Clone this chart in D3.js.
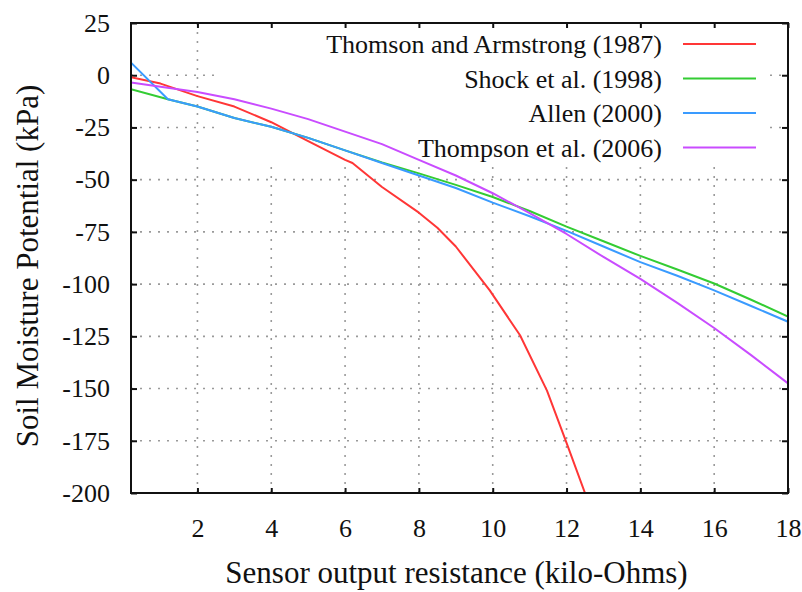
<!DOCTYPE html>
<html>
<head>
<meta charset="utf-8">
<script src="https://cdn.jsdelivr.net/npm/d3@7"></script>
<style>
  body { margin: 0; background: #fff; }
</style>
</head>
<body>
<svg id="chart" width="802" height="592"></svg>
<script>
// values
const thomsonX = [0.2, 1, 2, 3, 4, 5, 6, 6.2, 7, 8, 8.5, 9, 9.92, 10.74, 11.47, 12, 12.5]
const thomsonY = [-1, -4, -10, -15, -22.5, -31.5, -40.5, -42, -53.5, -65.8, -73, -82, -103, -124.5, -151, -176, -200]

const shockX = [0.2, 1.2, 2, 3, 4, 5, 6, 7, 8, 9, 10, 11, 12, 13, 14, 15, 16, 17, 18]
const shockY = [-6.7, -11.5, -15, -20.5, -24.7, -30, -36, -41.8, -47, -52.5, -58.3, -65, -72.5, -79.5, -86.5, -93, -99.7, -107.5, -115.5]

const allenX = [0.2, 1.2, 2, 3, 4, 5, 6, 7, 8, 9, 10, 11, 12, 13, 14, 15, 16, 17, 18]
const allenY = [6, -11.5, -15, -20.5, -24.7, -30, -36, -42, -48, -54, -61, -67.5, -74.5, -82, -89.5, -96, -103, -110.5, -118]

const thompsonX = [0.2, 1, 2, 3, 4, 5, 6, 7, 8, 9, 10, 11, 12, 13, 14, 15, 16, 17, 18]
const thompsonY = [-3.5, -5.5, -8, -11.5, -16, -21, -27, -33, -40.5, -48, -56.5, -66, -76, -87, -97.5, -109, -121, -134, -147.5]

const seriesNames = ["Thomson and Armstrong (1987)", "Shock et al. (1998)", "Allen (2000)", "Thompson et al. (2006)"]
const seriesColors = ["#ff3636", "#33cc33", "#3a9bff", "#c94cff"]

const xTicks = [2, 4, 6, 8, 10, 12, 14, 16, 18]
const yTicks = [25, 0, -25, -50, -75, -100, -125, -150, -175, -200]

const FONT = "'Liberation Serif', 'DejaVu Serif', 'Times New Roman', serif"

const width = 802, height = 592
const margins = {top: 23, right: 14, bottom: 99, left: 131}
const innerWidth = width - margins.left - margins.right
const innerHeight = height - margins.top - margins.bottom

const x = d3.scaleLinear().domain([0.2, 18]).range([0, innerWidth])
const y = d3.scaleLinear().domain([-200, 25]).range([innerHeight, 0])

const svg = d3.select("#chart")
const defs = svg.append("defs")

defs.append("clipPath").attr("id", "plot-clip")
  .append("rect").attr("width", innerWidth).attr("height", innerHeight)

// key area hides the grid (curves still pass over it)
const keyBox = {x0: 84, x1: 636, y1: 142}
const gridMask = defs.append("mask").attr("id", "grid-mask")
gridMask.append("rect").attr("x", -10).attr("y", -10)
  .attr("width", innerWidth + 20).attr("height", innerHeight + 20).attr("fill", "#fff")
gridMask.append("rect").attr("x", keyBox.x0).attr("y", -10)
  .attr("width", keyBox.x1 - keyBox.x0).attr("height", keyBox.y1 + 10).attr("fill", "#000")

const g = svg.append("g")
  .attr("transform", `translate(${margins.left},${margins.top})`)

// grid
const grid = g.append("g").attr("mask", "url(#grid-mask)")
  .attr("stroke", "#9a9a9a").attr("stroke-width", 1.6).attr("stroke-dasharray", "2,7")
grid.selectAll("line.vx")
  .data(xTicks.filter(d => d < 18))
  .join("line")
  .attr("x1", d => x(d)).attr("x2", d => x(d))
  .attr("y1", innerHeight).attr("y2", 0)
grid.selectAll("line.hy")
  .data(yTicks.filter(d => d > -200 && d < 25))
  .join("line")
  .attr("y1", d => y(d)).attr("y2", d => y(d))
  .attr("x1", 0).attr("x2", innerWidth)

// axes (plain hyphen for negatives, like the original)
const fmt = d => String(d)
g.append("g")
  .attr("transform", `translate(0,${innerHeight})`)
  .call(d3.axisBottom(x).tickValues(xTicks).tickSize(-5).tickPadding(26).tickFormat(fmt))
g.append("g")
  .call(d3.axisLeft(y).tickValues(yTicks).tickSize(-6).tickPadding(21).tickFormat(fmt))

// mirrored ticks on top and right, no labels
const topTicks = g.append("g")
  .call(d3.axisTop(x).tickValues(xTicks).tickSize(-5))
const rightTicks = g.append("g")
  .attr("transform", `translate(${innerWidth},0)`)
  .call(d3.axisRight(y).tickValues(yTicks).tickSize(-6))
topTicks.selectAll("text").remove()
rightTicks.selectAll("text").remove()

g.selectAll(".domain").remove()
g.selectAll(".tick line").attr("stroke", "#111").attr("stroke-width", 2)
g.selectAll(".tick text")
  .attr("font-size", 26).attr("fill", "#111")
  .style("font-family", FONT)

// curves
const line = d3.line().x(d => x(d[0])).y(d => y(d[1]))
const curves = [
  d3.zip(thomsonX, thomsonY),
  d3.zip(shockX, shockY),
  d3.zip(allenX, allenY),
  d3.zip(thompsonX, thompsonY)
]
g.append("g").attr("clip-path", "url(#plot-clip)")
  .selectAll("path")
  .data(curves)
  .join("path")
  .attr("d", line)
  .attr("fill", "none")
  .attr("stroke", (d, i) => seriesColors[i])
  .attr("stroke-width", 2)
  .attr("stroke-linejoin", "round")

// border
g.append("rect")
  .attr("width", innerWidth).attr("height", innerHeight)
  .attr("fill", "none").attr("stroke", "#111").attr("stroke-width", 2)

// key
const key = g.append("g")
  .selectAll("g")
  .data(seriesNames)
  .join("g")
  .attr("transform", (d, i) => `translate(0,${21 + i * 34.5})`)
key.append("text")
  .attr("x", 531).attr("dy", "0.35em")
  .attr("text-anchor", "end").attr("font-size", 26)
  .attr("fill", "#111").style("font-family", FONT)
  .text(d => d)
key.append("line")
  .attr("x1", 552).attr("x2", 625)
  .attr("stroke", (d, i) => seriesColors[i]).attr("stroke-width", 2)

// axis titles
svg.append("text")
  .attr("x", margins.left + innerWidth / 2 - 3).attr("y", 583)
  .attr("text-anchor", "middle").attr("font-size", 31)
  .attr("fill", "#111").style("font-family", FONT)
  .text("Sensor output resistance (kilo-Ohms)")
svg.append("text")
  .attr("transform", `translate(38,${margins.top + innerHeight / 2 + 8}) rotate(-90)`)
  .attr("text-anchor", "middle").attr("font-size", 31)
  .attr("fill", "#111").style("font-family", FONT)
  .text("Soil Moisture Potential (kPa)")
</script>
</body>
</html>
